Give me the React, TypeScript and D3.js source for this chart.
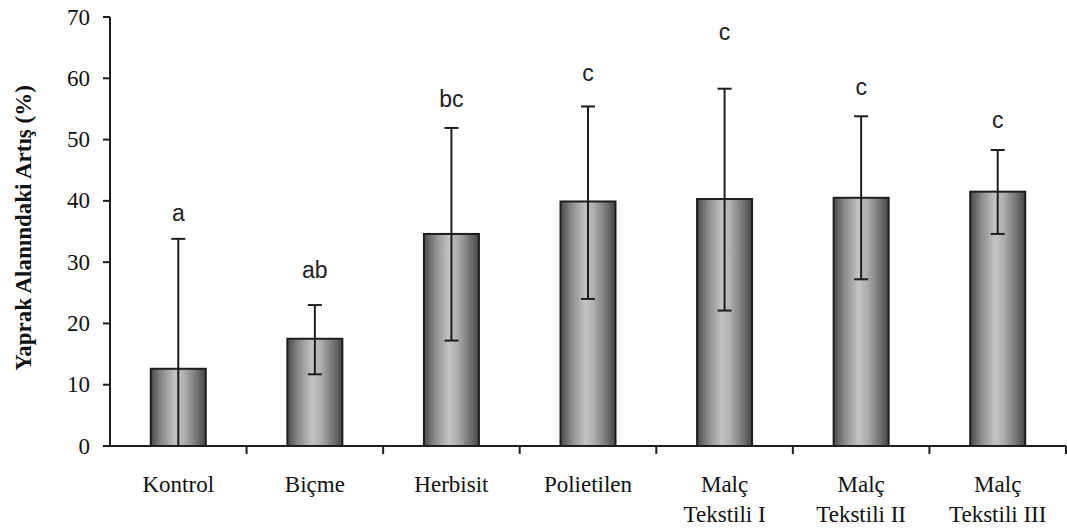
import React from "react";
import * as d3 from "d3";

const categories = ["Kontrol", "Biçme", "Herbisit", "Polietilen", "Malç Tekstili I", "Malç Tekstili II", "Malç Tekstili III"];
const labelLines = [["Kontrol"], ["Biçme"], ["Herbisit"], ["Polietilen"], ["Malç", "Tekstili I"], ["Malç", "Tekstili II"], ["Malç", "Tekstili III"]];
const means = [12.6, 17.5, 34.6, 39.9, 40.3, 40.5, 41.5];
const errHigh = [33.8, 23.0, 51.9, 55.4, 58.3, 53.8, 48.3];
const errLow = [0, 11.7, 17.2, 24.0, 22.1, 27.2, 34.6];
const letters = ["a", "ab", "bc", "c", "c", "c", "c"];
const letterPos = [38, 28.7, 56.7, 60.9, 67.5, 58.5, 53.2];
const yTicks = [0, 10, 20, 30, 40, 50, 60, 70];
const yTitle = "Yaprak Alanındaki Artış (%)";

export default function App() {
  const W = 1067, H = 532;
  const x0 = 110, x1 = 1066;
  const y = d3.scaleLinear().domain([0, 70]).range([446, 17]);
  const x = d3.scaleBand<string>().domain(categories).range([x0, x1]).paddingInner(0).paddingOuter(0);
  const bw = 55;
  const serif = "'Liberation Serif', 'Times New Roman', serif";
  const sans = "'Liberation Sans', Arial, sans-serif";
  const ink = "#1e1e1e";
  return (
    <svg width={W} height={H} style={{ position: "absolute", left: 0, top: 0, background: "#fff" }}>
      <defs>
        <linearGradient id="barGrad" x1="0" x2="1" y1="0" y2="0">
          <stop offset="0" stopColor="#4a4a4a" />
          <stop offset="0.2" stopColor="#8a8a8a" />
          <stop offset="0.45" stopColor="#c4c4c4" />
          <stop offset="0.6" stopColor="#b0b0b0" />
          <stop offset="0.85" stopColor="#707070" />
          <stop offset="1" stopColor="#454545" />
        </linearGradient>
      </defs>
      {categories.map((c, i) => {
        const cx = x(c)! + x.bandwidth() / 2;
        return (
          <rect key={c} x={cx - bw / 2} y={y(means[i])} width={bw} height={y(0) - y(means[i])}
            fill="url(#barGrad)" stroke={ink} strokeWidth={2} />
        );
      })}
      {categories.map((c, i) => {
        const cx = x(c)! + x.bandwidth() / 2;
        return (
          <g key={c} stroke={ink} strokeWidth={2}>
            <line x1={cx} x2={cx} y1={y(errHigh[i])} y2={y(errLow[i])} />
            <line x1={cx - 7} x2={cx + 7} y1={y(errHigh[i])} y2={y(errHigh[i])} />
            {errLow[i] > 0 && <line x1={cx - 7} x2={cx + 7} y1={y(errLow[i])} y2={y(errLow[i])} />}
          </g>
        );
      })}
      {categories.map((c, i) => {
        const cx = x(c)! + x.bandwidth() / 2;
        return (
          <text key={c} x={cx} y={y(letterPos[i])} textAnchor="middle" dominantBaseline="central"
            fontFamily={sans} fontSize={23} fill="#222">{letters[i]}</text>
        );
      })}
      <line x1={x0} x2={x0} y1={y(70)} y2={y(0)} stroke={ink} strokeWidth={2} />
      {yTicks.map(t => (
        <g key={t}>
          <line x1={x0 - 7} x2={x0} y1={y(t)} y2={y(t)} stroke={ink} strokeWidth={2} />
          <text x={x0 - 20} y={y(t)} textAnchor="end" dominantBaseline="central" fontFamily={serif} fontSize={23} fill="#111">{t}</text>
        </g>
      ))}
      <line x1={x0 - 7} x2={x1} y1={y(0)} y2={y(0)} stroke={ink} strokeWidth={2} />
      {categories.map(c => {
        const xe = x(c)! + x.bandwidth();
        return <line key={c} x1={xe} x2={xe} y1={y(0)} y2={y(0) + 8} stroke={ink} strokeWidth={2} />;
      })}
      {categories.map((c, i) => {
        const cx = x(c)! + x.bandwidth() / 2;
        return (
          <text key={c} x={cx} textAnchor="middle" fontFamily={serif} fontSize={23} fill="#111">
            {labelLines[i].map((l, j) => (
              <tspan key={j} x={cx} y={492 + j * 30}>{l}</tspan>
            ))}
          </text>
        );
      })}
      <text transform={`translate(31, 228) rotate(-90)`} textAnchor="middle" fontFamily={serif} fontWeight="bold" fontSize={23} fill="#111">{yTitle}</text>
    </svg>
  );
}
